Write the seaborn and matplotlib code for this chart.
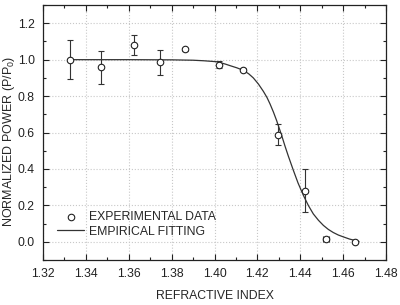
import matplotlib
matplotlib.use("Agg")
import matplotlib.pyplot as plt
import seaborn as sns
import pandas as pd

# measured points (refractive index, normalized power, error bars)
ri = [1.3326, 1.3469, 1.3623, 1.3744, 1.3864, 1.4021, 1.4131, 1.4298, 1.4421, 1.4521, 1.4655]
power = [1.0, 0.958, 1.082, 0.985, 1.056, 0.973, 0.945, 0.589, 0.281, 0.016, 0.0]
power_err = [0.106, 0.09, 0.056, 0.07, 0.008, 0.018, 0.008, 0.06, 0.12, 0.008, 0.006]
ri_err = [0, 0, 0, 0, 0, 0, 0, 0, 0, 0.0015, 0]

# empirical fitting curve
fit_x = [1.3326, 1.36, 1.38, 1.39, 1.395, 1.4007, 1.4026, 1.405, 1.4073, 1.4105, 1.4135,
         1.416, 1.4181, 1.4205, 1.4228, 1.4245, 1.4259, 1.4275, 1.429, 1.4313, 1.4329,
         1.4344, 1.4368, 1.439, 1.4415, 1.4438, 1.4461, 1.4485, 1.4508, 1.4531, 1.4554,
         1.4578, 1.4601, 1.463, 1.4663, 1.4674]
fit_y = [1.0, 1.0, 0.999, 0.997, 0.994, 0.989, 0.984, 0.976, 0.967, 0.955, 0.941,
         0.922, 0.90, 0.866, 0.826, 0.792, 0.757, 0.712, 0.665, 0.585, 0.525,
         0.472, 0.392, 0.322, 0.254, 0.199, 0.153, 0.118, 0.09, 0.068, 0.051,
         0.037, 0.027, 0.015, 0.005, 0.002]

meas = pd.DataFrame({"ri": ri, "power": power})
fit = pd.DataFrame({"ri": fit_x, "power": fit_y})

sns.set_style("ticks")
plt.rcParams["font.family"] = ["Liberation Sans", "DejaVu Sans"]
plt.rcParams["font.size"] = 8.8

fig = plt.figure(figsize=(4, 3.05), dpi=100)
ax = fig.add_axes([0.1075, 0.1475, 0.8575, 0.836])

sns.lineplot(data=fit, x="ri", y="power", color="#333333", lw=0.9, sort=False,
             estimator=None, label="EMPIRICAL FITTING", ax=ax, zorder=2)
ax.errorbar(ri, power, yerr=power_err, xerr=ri_err, fmt="none", ecolor="#333333",
            elinewidth=0.8, capsize=2, capthick=0.8, zorder=3)
sns.scatterplot(data=meas, x="ri", y="power", marker="o", s=22, facecolor="white",
                edgecolor="#222222", linewidth=0.8, label="EXPERIMENTAL DATA", ax=ax, zorder=4)

ax.set_xlim(1.32, 1.48)
ax.set_ylim(-0.1, 1.3)
ax.set_xticks([1.32 + 0.02 * i for i in range(9)])
ax.set_yticks([0.0, 0.2, 0.4, 0.6, 0.8, 1.0, 1.2])
ax.set_xticks([1.33 + 0.02 * i for i in range(8)], minor=True)
ax.set_yticks([-0.1 + 0.2 * i for i in range(8)], minor=True)
ax.xaxis.set_major_formatter(matplotlib.ticker.FormatStrFormatter("%.2f"))
ax.yaxis.set_major_formatter(matplotlib.ticker.FormatStrFormatter("%.1f"))
ax.tick_params(which="both", direction="in", top=True, right=True, width=0.8,
               colors="#222222", labelsize=8.8)
ax.tick_params(which="major", length=4.5, pad=6)
ax.tick_params(which="minor", length=2.5)
ax.grid(True, which="major", linestyle=":", color="#c8c8c8", lw=0.8)
for s in ax.spines.values():
    s.set_linewidth(0.9)
    s.set_color("#222222")

ax.set_xlabel("REFRACTIVE INDEX", fontsize=8.8, labelpad=7)
ax.set_ylabel("NORMALIZED POWER (P/P$_\\mathregular{0}$)", fontsize=9)
ax.yaxis.set_label_coords(-0.075, 0.467)

h, l = ax.get_legend_handles_labels()
ax.legend(h[::-1], l[::-1], loc="lower left", bbox_to_anchor=(0.01, 0.045),
          frameon=False, handlelength=2.2, handletextpad=0.4, labelspacing=0.2,
          fontsize=8.8)

fig.savefig("out.png", dpi=100)
